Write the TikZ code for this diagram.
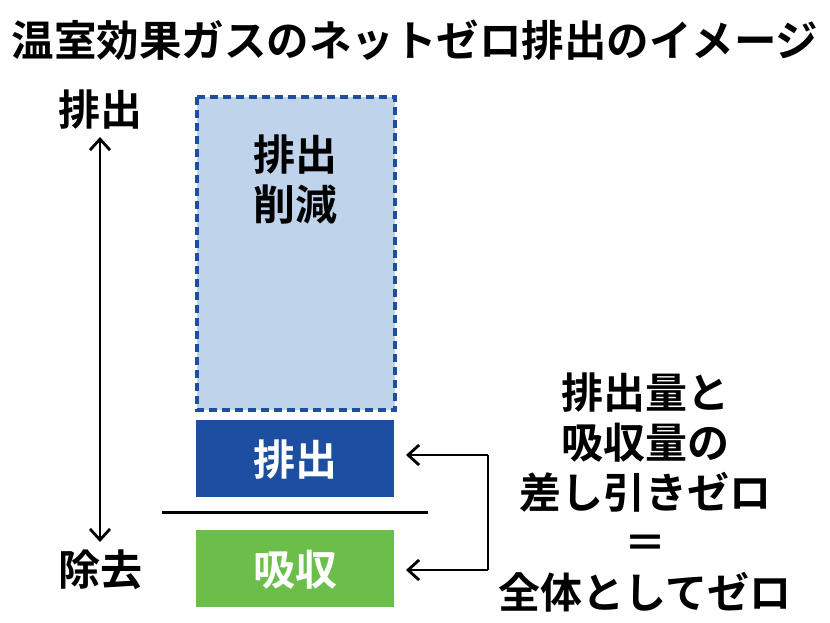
\documentclass[tikz,border=0pt]{standalone}
\usepackage{fontspec}
\setmainfont{Noto Sans CJK JP}[BoldFont={* Bold}]
\usetikzlibrary{arrows.meta}
\definecolor{lb}{HTML}{BFD3EA}
\definecolor{db}{HTML}{1D4FA0}
\definecolor{gr}{HTML}{6CBE4A}
\begin{document}
\begin{tikzpicture}[x=1pt,y=-1pt,
  lbl/.style={font=\fontsize{42}{50}\selectfont\bfseries, inner sep=0},
  arr/.style={-{Straight Barb[length=11pt,width=20pt]}, line width=2.8pt}]
\useasboundingbox (0,0) rectangle (830,622);
\node[lbl, font=\fontsize{42.5}{46}\selectfont\bfseries] (title) at (415,40) {温室効果ガスのネットゼロ排出のイメージ};
\draw[db, dash pattern=on 8pt off 5pt, line width=4pt, fill=lb] (197,97) rectangle (395,410);
\node[lbl, align=center] (red) at (295,180) {排出\\削減};
\fill[db] (196,420) rectangle (394,497);
\node[lbl, white] (em) at (295,460) {排出};
\draw[line width=3pt] (162,512) -- (428,512);
\fill[gr] (196,530) rectangle (394,607);
\node[lbl, white] (ab) at (295,570) {吸収};
\node[lbl] (top) at (100,110) {排出};
\node[lbl] (bot) at (100,570) {除去};
\draw[{Straight Barb[length=11pt,width=20pt]}-{Straight Barb[length=11pt,width=20pt]}, line width=2.8pt] (100,137) -- (100,542);
\node[lbl, align=center] (txt) at (645,492) {排出量と\\吸収量の\\差し引きゼロ\\＝\\全体としてゼロ};
\coordinate (c1) at (488,455);
\coordinate (c2) at (488,570);
\draw[arr] (c1) -- (406,455);
\draw[arr] (c2) -- (406,570);
\draw[line width=2.8pt] (c1) -- (c2);
\end{tikzpicture}
\end{document}
